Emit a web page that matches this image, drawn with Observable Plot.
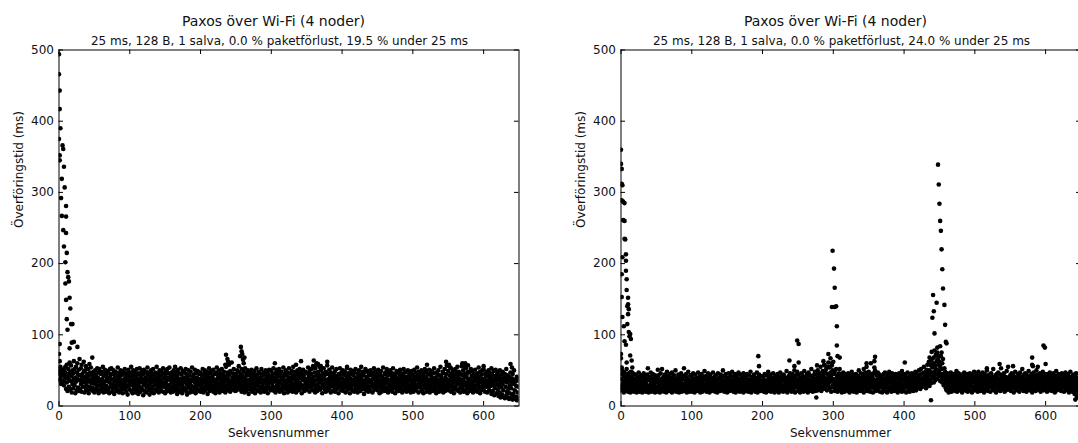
<!DOCTYPE html>
<html><head><meta charset="utf-8">
<script src="https://cdn.jsdelivr.net/npm/d3@7"></script>
<script src="https://cdn.jsdelivr.net/npm/@observablehq/plot@0.6"></script>
<style>
html,body{margin:0;padding:0;background:#fff;width:1078px;height:443px;overflow:hidden;position:relative;}
.panel{position:absolute;top:0;width:540px;height:443px;}
.panel svg{max-width:none !important;width:540px;height:443px;display:block;}
</style></head><body>
<div id="a" class="panel" style="left:0"></div>
<div id="b" class="panel" style="left:562px"></div>
<script>
const title = "Paxos över Wi-Fi (4 noder)";
const subtitleA = "25 ms, 128 B, 1 salva, 0.0 % paketförlust, 19.5 % under 25 ms";
const subtitleB = "25 ms, 128 B, 1 salva, 0.0 % paketförlust, 24.0 % under 25 ms";
const xLabel = "Sekvensnummer";
const yLabel = "Överföringstid (ms)";
const xTicks = [0, 100, 200, 300, 400, 500, 600];
const yTicks = [0, 100, 200, 300, 400, 500];

// Left panel: two readings per sequence number, 50 sequence numbers per row (ms)
const bandA = [
"48 52 36 45 55 38 42 31 50 44 33 49 46 35 52 29 38 43 47 55 41 24 58 33 45 21 39 52 27 44 61 36 23 48 35 57 42 19 50 31 46 25 63 37 29 52 40 18 55 34 22 47 60 38 26 44 51 21 36 66 43 24 31 53 58 20 39 45 27 35 62 48 19 33 50 41 24 56 37 29 45 22 52 34 18 41 59 27 36 47 23 54 32 44 26 68 39 21 48 35",
"42 19 31 50 25 44 37 22 53 28 40 34 18 47 29 52 36 23 45 31 21 48 38 26 55 33 19 42 30 46 24 51 35 20 43 28 39 49 22 36 47 25 33 18 52 40 27 44 31 53 20 37 45 24 29 50 38 17 42 34 26 48 35 21 43 30 54 23 39 46 19 33 41 28 50 36 22 45 31 25 44 18 37 49 27 32 52 24 40 35 20 46 29 43 16 38 51 26 34 42",
"23 47 36 30 55 21 41 33 18 45 28 50 37 24 43 31 19 48 35 26 52 39 22 44 30 17 46 34 27 53 20 38 42 25 33 49 23 36 15 45 29 51 37 21 40 32 48 19 35 26 44 54 28 38 22 47 31 16 42 36 24 50 33 20 45 27 39 52 18 35 43 29 47 23 37 30 55 21 41 34 26 46 19 38 31 50 25 42 36 22 48 28 33 44 20 53 39 27 45 30",
"18 43 35 49 24 31 52 27 40 21 46 37 29 54 23 38 44 19 33 47 26 41 36 20 50 30 45 25 39 55 22 34 48 28 17 42 37 51 24 32 46 20 38 29 53 35 23 44 31 18 49 27 40 36 22 47 33 25 52 39 21 45 30 16 42 34 50 26 37 43 19 31 48 24 36 28 54 20 41 35 27 44 22 39 33 51 18 46 30 25 40 37 21 49 34 29 45 23 38 32",
"47 20 35 28 43 31 52 24 38 19 45 33 26 50 37 22 41 29 48 34 17 44 36 25 53 30 40 21 46 32 27 49 38 23 35 42 20 51 29 37 24 45 33 18 47 36 28 54 22 39 31 43 26 50 19 38 34 46 23 41 30 52 25 37 44 21 48 33 27 40 36 19 55 29 42 24 35 47 22 38 31 58 26 44 20 49 35 28 61 33 40 23 46 30 37 52 25 43 34 21",
"45 28 38 22 50 33 41 26 56 35 29 47 23 39 44 31 20 52 36 27 42 24 48 34 19 40 30 53 25 37 46 21 33 43 28 50 36 17 44 31 23 47 39 26 35 51 20 42 30 38 45 24 32 49 18 37 41 27 53 34 22 44 36 29 48 21 39 33 46 25 40 19 35 52 28 43 31 24 47 37 20 45 34 26 50 38 23 41 30 47 36 18 44 28 33 51 25 39 42 22",
"37 49 24 32 45 28 40 53 21 36 46 26 34 19 51 38 29 43 23 47 35 27 52 31 41 20 44 33 25 48 37 22 39 30 54 26 42 18 45 34 28 50 36 23 43 31 19 47 38 26 53 35 21 40 29 46 33 24 49 37 42 20 31 55 27 38 44 23 36 48 19 32 41 26 50 35 29 45 22 39 33 52 25 40 30 47 18 43 37 28 51 24 36 44 21 39 31 48 27 35",
"46 23 38 30 54 26 42 35 20 49 33 28 45 39 24 52 31 37 56 22 41 29 47 34 19 53 36 25 43 58 30 21 48 38 27 44 33 55 23 40 35 50 26 42 31 18 46 37 29 53 24 39 44 32 20 48 36 27 57 34 22 45 38 30 51 25 41 33 19 47 36 28 43 54 21 39 31 46 26 37 49 20 34 42 28 52 36 24 40 31 45 18 38 29 53 33 26 44 22 47",
"31 39 25 50 36 21 44 33 28 48 19 37 42 26 53 30 35 23 46 39 27 41 32 18 51 38 24 45 29 36 49 22 34 43 20 47 31 38 26 52 40 23 35 30 46 19 42 37 25 50 33 28 44 21 39 55 27 36 48 31 24 43 30 17 47 35 26 52 38 22 41 33 29 49 20 37 45 25 34 43 50 21 36 28 44 32 19 47 39 26 53 30 23 42 35 48 27 38 31 45",
"22 40 34 51 27 37 18 46 31 43 25 49 36 20 41 33 28 54 23 38 45 30 21 47 35 26 52 39 24 43 32 19 48 36 29 44 22 50 34 27 41 37 20 46 30 53 25 38 33 45 18 42 28 35 49 23 39 31 26 47 36 21 44 32 51 27 40 24 37 46 19 34 43 29 52 22 38 31 47 26 33 48 20 41 35 25 50 30 38 22 45 36 27 43 19 39 32 49 24 37",
"44 28 35 20 51 33 41 25 47 30 22 38 54 27 36 43 19 48 32 40 26 45 31 37 21 50 34 23 42 29 46 18 39 35 52 25 41 30 20 48 33 38 27 44 36 23 51 30 19 45 37 28 42 34 24 49 21 39 46 31 26 53 35 22 40 29 47 18 38 33 44 25 50 31 36 20 43 28 55 34 23 41 37 27 48 32 19 46 35 24 52 30 40 21 45 38 28 57 33 26",
"49 36 22 58 31 43 27 38 53 20 35 46 29 41 24 50 33 18 44 37 26 52 39 23 47 30 35 55 21 42 32 48 25 38 19 45 36 28 56 31 43 24 37 50 20 34 46 29 41 22 53 33 27 44 18 39 48 31 35 25 47 21 38 32 52 28 42 36 23 49 30 19 45 34 40 26 51 37 22 43 29 35 46 20 39 31 54 25 41 33 18 48 36 27 44 22 38 50 30 34",
"24 52 37 29 45 20 41 33 27 48 35 19 43 31 50 26 38 22 46 34 28 40 17 53 32 44 21 37 29 49 36 15 42 25 34 51 18 39 30 45 23 47 14 36 41 28 19 50 33 12 44 26 38 16 31 48 22 13 40 35 11 45 27 38 15 52 33 20 12 43 36 24 10 41 29 18 47 11 34 25 14 39 9 45 31 17 12 50 37 22 10 34 28 13 41 8 19 36 11 27"
];
// Left panel: readings outside the dense band [sequence number, ms]
const extraA = [
[0,494],[0,466],[1,443],[1,417],[0,375],[1,352],[1,345],[2,390],[5,366],[6,361],[7,336],[8,307],[10,281],[4,319],[3,292],[4,267],[10,266],[6,247],[10,243],[7,224],[11,215],[9,202],[12,188],[13,181],[9,172],[14,175],[15,152],[10,149],[16,137],[11,122],[17,115],[12,107],[18,89],[15,81],[19,115],[21,90],[26,83],[1,87],[0,73],[1,63],
[236,72],[238,66],[239,62],[235,58],[241,60],[256,70],[257,83],[258,77],[259,73],[260,65],[261,60],[262,68],[305,60],[335,58],[342,63],[360,64],[364,60],[366,59],[370,56],[379,62],[407,55],[520,58],[547,62],[549,57],[552,55],[570,60],[574,60],[574,55],[578,57],[600,56],[638,59],[640,54]
];

// Right panel
const bandB = [
"38 22 45 27 31 50 24 36 42 19 29 47 35 21 40 26 33 52 23 44 30 20 46 37 25 41 19 34 48 28 36 22 43 31 24 39 45 20 33 27 21 38 29 44 35 19 26 41 32 23 47 28 20 36 39 25 22 43 34 30 27 19 40 33 24 46 37 21 29 42 20 35 31 26 44 38 23 53 28 19 36 25 41 22 30 47 33 20 27 39 24 45 35 21 32 29 43 19 38 26",
"22 40 34 27 51 20 31 43 25 37 19 29 46 33 23 38 28 52 21 35 41 26 30 20 44 36 24 39 32 19 48 27 22 34 42 29 37 21 26 45 33 23 40 30 19 47 35 25 28 38 21 43 31 24 50 34 20 27 39 36 25 30 44 22 37 19 33 41 28 23 46 35 20 29 38 26 42 31 24 53 30 21 36 27 45 33 19 40 25 34 22 48 29 37 20 31 43 26 35 23",
"41 28 20 35 32 46 24 38 27 19 44 30 36 22 29 40 33 25 47 21 34 39 26 31 19 43 37 23 28 45 20 33 41 27 36 24 30 49 22 38 25 42 31 20 35 29 46 23 37 33 19 40 27 44 30 24 36 21 39 32 26 47 22 34 41 28 20 37 31 43 25 35 29 19 46 33 23 38 27 40 21 30 44 26 36 22 39 33 28 50 24 31 42 20 35 27 45 30 23 37",
"19 34 40 25 29 46 36 21 31 38 27 43 22 35 30 48 24 33 20 41 37 28 23 45 32 19 39 26 34 42 21 30 47 24 36 29 20 38 33 44 25 31 22 40 35 27 19 46 30 36 23 42 28 33 21 39 45 26 31 24 34 20 43 29 37 23 32 48 19 35 27 41 24 38 30 22 44 33 26 36 20 40 31 25 47 28 35 19 39 22 33 44 27 30 36 21 42 25 34 29",
"33 24 41 30 20 37 27 45 22 35 31 19 43 28 36 25 48 21 33 39 26 30 44 23 37 20 34 40 27 31 22 46 29 35 19 38 42 24 32 28 36 21 45 30 25 39 33 19 41 27 35 47 22 31 38 24 29 43 20 36 28 44 23 34 40 21 30 37 26 49 32 19 38 25 42 29 35 22 46 31 24 39 33 20 45 28 36 41 22 30 50 26 34 19 38 43 27 32 48 35",
"21 37 29 44 25 33 40 19 35 28 46 23 31 38 26 42 20 34 49 30 27 36 22 41 33 24 45 29 19 38 32 47 25 35 21 43 30 37 24 52 28 34 20 40 36 26 44 31 23 48 33 21 39 27 45 35 22 50 30 41 25 38 46 29 34 55 21 42 37 27 49 33 24 44 31 58 26 40 35 47 30 52 38 22 45 36 61 28 41 33 54 25 47 39 20 43 35 57 29 50",
"38 26 45 33 21 48 36 29 52 24 40 31 43 20 37 27 34 46 22 39 30 41 25 35 19 44 32 28 47 23 36 40 20 33 26 45 31 38 24 42 29 35 21 46 34 27 39 19 43 30 25 37 48 22 33 41 28 36 20 44 31 26 38 23 45 34 19 40 29 36 42 24 50 32 27 39 21 35 46 28 33 22 41 30 37 25 44 19 36 28 47 33 24 40 30 55 21 38 43 26",
"35 48 23 32 40 20 37 29 45 34 26 41 19 38 31 46 24 36 50 28 33 21 43 30 37 25 47 22 34 39 27 44 20 31 36 26 42 33 19 40 28 35 45 23 30 38 21 47 34 26 41 29 36 19 44 32 25 39 22 48 37 27 33 42 20 35 30 46 24 38 29 43 21 34 40 26 31 45 23 36 28 41 19 37 33 24 46 30 39 22 35 43 27 32 49 20 38 29 44 25",
"36 21 42 31 27 45 34 19 39 28 33 47 23 36 30 41 20 35 44 26 31 38 24 46 29 35 21 43 37 25 40 32 48 27 34 22 39 45 30 36 26 41 33 50 28 37 44 24 35 52 31 39 27 46 38 30 55 34 42 29 36 48 25 44 51 33 40 58 30 46 37 62 28 50 43 35 57 32 47 65 39 54 44 60 33 68 48 41 57 36 71 52 45 63 38 75 50 66 42 58",
"47 62 35 55 70 43 52 38 60 33 45 66 40 29 53 36 48 31 42 25 37 22 46 30 35 41 19 33 44 27 38 24 31 47 20 36 28 42 34 23 45 30 26 39 33 21 43 36 28 49 20 32 40 25 37 46 29 35 22 41 30 38 24 44 34 19 40 27 36 31 47 23 33 42 26 38 21 35 45 29 32 20 43 37 25 39 30 46 22 34 28 41 36 19 44 33 27 38 24 48",
"35 22 40 29 33 45 26 37 20 42 31 48 24 36 28 39 21 44 34 27 38 30 47 23 35 41 19 33 26 45 29 37 22 40 32 50 25 36 43 21 30 38 27 44 33 20 46 35 29 41 24 37 31 52 22 34 39 26 43 30 19 36 45 28 33 40 23 47 31 25 38 35 21 44 29 53 26 37 32 42 24 39 30 46 20 35 41 27 33 22 49 36 28 40 31 55 23 38 34 26",
"43 30 21 37 33 46 25 39 28 44 19 35 41 27 31 48 23 36 40 29 34 22 45 31 26 38 42 20 33 47 29 36 24 41 30 52 27 35 21 43 38 25 32 46 28 37 20 44 34 29 40 23 36 49 27 31 42 22 35 39 26 45 33 19 40 30 47 24 36 28 43 35 21 39 32 50 25 37 44 29 33 23 41 36 27 46 30 20 38 34 25 42 31 48 22 36 39 28 45 33",
"36 24 43 30 20 38 33 45 27 35 22 41 29 47 32 25 39 34 21 44 28 37 31 46 24 40 35 19 42 30 26 49 33 22 38 36 45 27 31 40 23 34 44 29 37 21 46 32 26 39 35 28 43 20 36 31 47 24 38 33 27 42 30 22 45 35 19 40 33 26 48 31 23 37 41 28 34 20 44 30 36 25 39 17 42 31 22 46 28 14 37 33 20 12 40 26 30 18 35 24"
];
const extraB = [
[0,360],[0,340],[1,333],[1,312],[2,310],[1,289],[3,287],[5,285],[3,261],[5,260],[2,209],[5,235],[6,234],[7,213],[7,204],[7,190],[1,185],[8,178],[1,153],[8,163],[10,152],[10,143],[11,136],[10,129],[2,125],[9,115],[4,112],[11,104],[13,101],[14,94],[5,91],[7,86],[0,73],[13,71],[15,64],[16,54],[1,54],[16,47],[8,61],[0,67],[12,98],[9,140],
[299,218],[301,193],[302,166],[298,139],[302,139],[304,140],[305,112],[305,85],[306,70],[309,68],[293,73],[296,67],[298,60],[293,55],[286,63],[288,57],[277,57],[309,52],[300,62],
[249,92],[251,87],[251,61],[238,64],[245,56],[194,70],[195,56],
[359,69],[358,63],[347,60],[353,60],[343,52],[358,54],[401,61],
[276,12],[438,8],[642,9],
[448,339],[449,311],[450,284],[451,260],[452,246],[453,220],[454,192],[455,165],[441,156],[446,145],[457,142],[442,133],[440,124],[458,114],[443,102],[459,90],[460,88],[451,84],[443,78],[439,76],[447,82],[445,72],[449,70],[436,68],[453,75],
[597,85],[599,82],[600,59],[581,68],[581,58],[582,56],[589,55],[535,59],[554,56],[517,53]
];

function points(rows, extra) {
  const out = [];
  rows.forEach((row, r) => {
    row.trim().split(/\s+/).forEach((v, j) => out.push({seq: r * 50 + Math.floor(j / 2), ms: +v}));
  });
  extra.forEach(([s, m]) => out.push({seq: s, ms: m}));
  return out;
}

function panel(data, subtitle) {
  const W = 540, H = 443, mL = 58.5, mR = 21.5, mT = 49.5, mB = 37.5;
  const pw = W - mL - mR, ph = H - mT - mB, tl = 4.5;
  return Plot.plot({
    width: W, height: H,
    marginLeft: mL, marginRight: mR, marginTop: mT, marginBottom: mB,
    x: {domain: [0, 650]},
    y: {domain: [0, 500]},
    style: {fontFamily: "DejaVu Sans", fontSize: "12px", color: "#111", background: "white", overflow: "visible", maxWidth: "none"},
    marks: [
      Plot.dot(data, {x: "seq", y: "ms", r: 2.3, fill: "black", stroke: null, clip: true}),
      Plot.ruleX(xTicks, {x: d => d, insetTop: ph - tl, stroke: "black"}),
      Plot.ruleX(xTicks, {x: d => d, insetBottom: ph - tl, stroke: "black"}),
      Plot.ruleY(yTicks, {y: d => d, insetRight: pw - tl, stroke: "black"}),
      Plot.ruleY(yTicks, {y: d => d, insetLeft: pw - tl, stroke: "black"}),
      Plot.frame({stroke: "black", strokeWidth: 1}),
      Plot.axisX({ticks: xTicks, tickSize: 0, tickPadding: 5, label: null, fontSize: 12}),
      Plot.axisY({ticks: yTicks, tickSize: 0, tickPadding: 5, label: null, fontSize: 12}),
      Plot.text([title], {text: d => d, frameAnchor: "top", lineAnchor: "middle", dx: -15.5, dy: -28, fontSize: 14}),
      Plot.text([subtitle], {text: d => d, frameAnchor: "top", lineAnchor: "middle", dx: -9.5, dy: -9, fontSize: 12}),
      Plot.text([xLabel], {text: d => d, frameAnchor: "bottom", lineAnchor: "middle", dx: -10.5, dy: 27.5, fontSize: 12}),
      Plot.text([yLabel], {text: d => d, frameAnchor: "left", lineAnchor: "middle", rotate: -90, dx: -40, fontSize: 12})
    ]
  });
}

document.getElementById("a").append(panel(points(bandA, extraA), subtitleA));
document.getElementById("b").append(panel(points(bandB, extraB), subtitleB));
</script>
</body></html>
